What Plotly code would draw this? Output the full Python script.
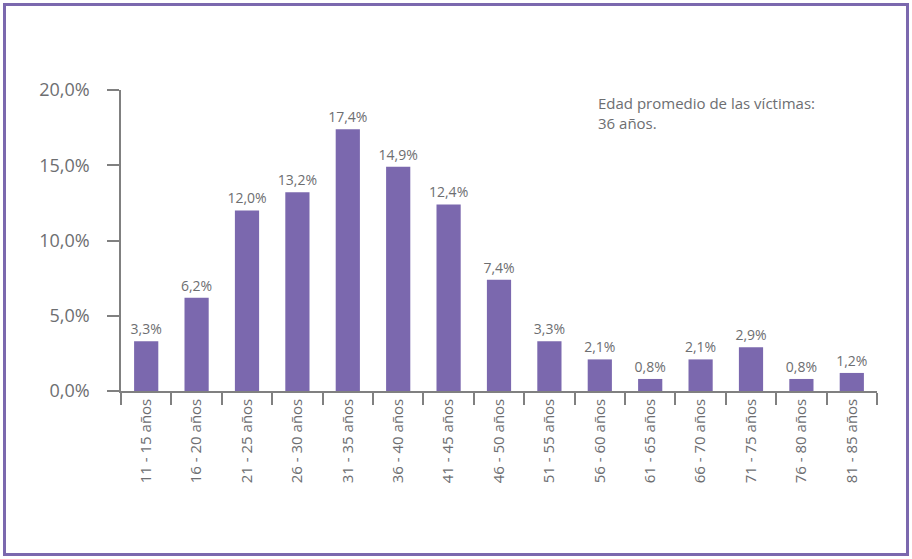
import plotly.graph_objects as go

categories = ["11 - 15 años", "16 - 20 años", "21 - 25 años", "26 - 30 años", "31 - 35 años",
              "36 - 40 años", "41 - 45 años", "46 - 50 años", "51 - 55 años", "56 - 60 años",
              "61 - 65 años", "66 - 70 años", "71 - 75 años", "76 - 80 años", "81 - 85 años"]
values = [3.3, 6.2, 12.0, 13.2, 17.4, 14.9, 12.4, 7.4, 3.3, 2.1, 0.8, 2.1, 2.9, 0.8, 1.2]
labels = [f"{v:.1f}".replace(".", ",") + "%" for v in values]
note_text = "Edad promedio de las víctimas:<br>36 años."

W, H = 912, 559
ML, MR, MT, MB = 121, 35, 90, 168
PW, PH = W - ML - MR, H - MT - MB

BAR = "#7B68AE"
TXT = "#6D6E71"
AX = "#808080"
FONT = "Open Sans"

fig = go.Figure(go.Bar(
    x=categories, y=values, text=labels, textposition="outside",
    textfont=dict(size=14, color=TXT, family=FONT),
    constraintext="none",
    marker=dict(color=BAR, line=dict(width=0)),
    cliponaxis=False,
))

def px2paper_x(p):
    return (p - ML) / PW

def px2paper_y(p):
    return (H - MB - p) / PH

fig.update_layout(
    width=W, height=H,
    margin=dict(l=ML, r=MR, t=MT, b=MB),
    plot_bgcolor="white", paper_bgcolor="white",
    separators=",.",
    bargap=0.52,
    showlegend=False,
    font=dict(family=FONT, color=TXT),
    xaxis=dict(
        showline=True, linecolor=AX, linewidth=1.5,
        ticks="outside", tickson="boundaries", ticklen=12, tickcolor=AX, tickwidth=1.5,
        tickangle=-90, tickfont=dict(size=15, color=TXT, family=FONT),
        showgrid=False, zeroline=False,
    ),
    yaxis=dict(
        range=[0, 20], dtick=5, tickformat=".1f", ticksuffix="%",
        showline=True, linecolor=AX, linewidth=1.5,
        ticks="outside", ticklen=12, tickcolor=AX, tickwidth=1.5,
        tickfont=dict(size=18, color=TXT, family=FONT),
        ticklabelstandoff=14,
        showgrid=False, zeroline=False,
    ),
    annotations=[dict(
        x=px2paper_x(596), y=px2paper_y(91), xref="paper", yref="paper",
        xanchor="left", yanchor="top", align="left", showarrow=False,
        text=note_text, font=dict(size=15, color=TXT, family=FONT),
    )],
    shapes=[dict(
        type="rect", xref="paper", yref="paper",
        x0=px2paper_x(4.5), x1=px2paper_x(907.5),
        y0=px2paper_y(554.5), y1=px2paper_y(4.5),
        line=dict(color=BAR, width=3), fillcolor="rgba(0,0,0,0)", layer="below",
    )],
)

fig.write_html("out.html", config={"displayModeBar": False},
               post_script="document.body.style.margin='0';document.body.style.overflow='hidden';")
